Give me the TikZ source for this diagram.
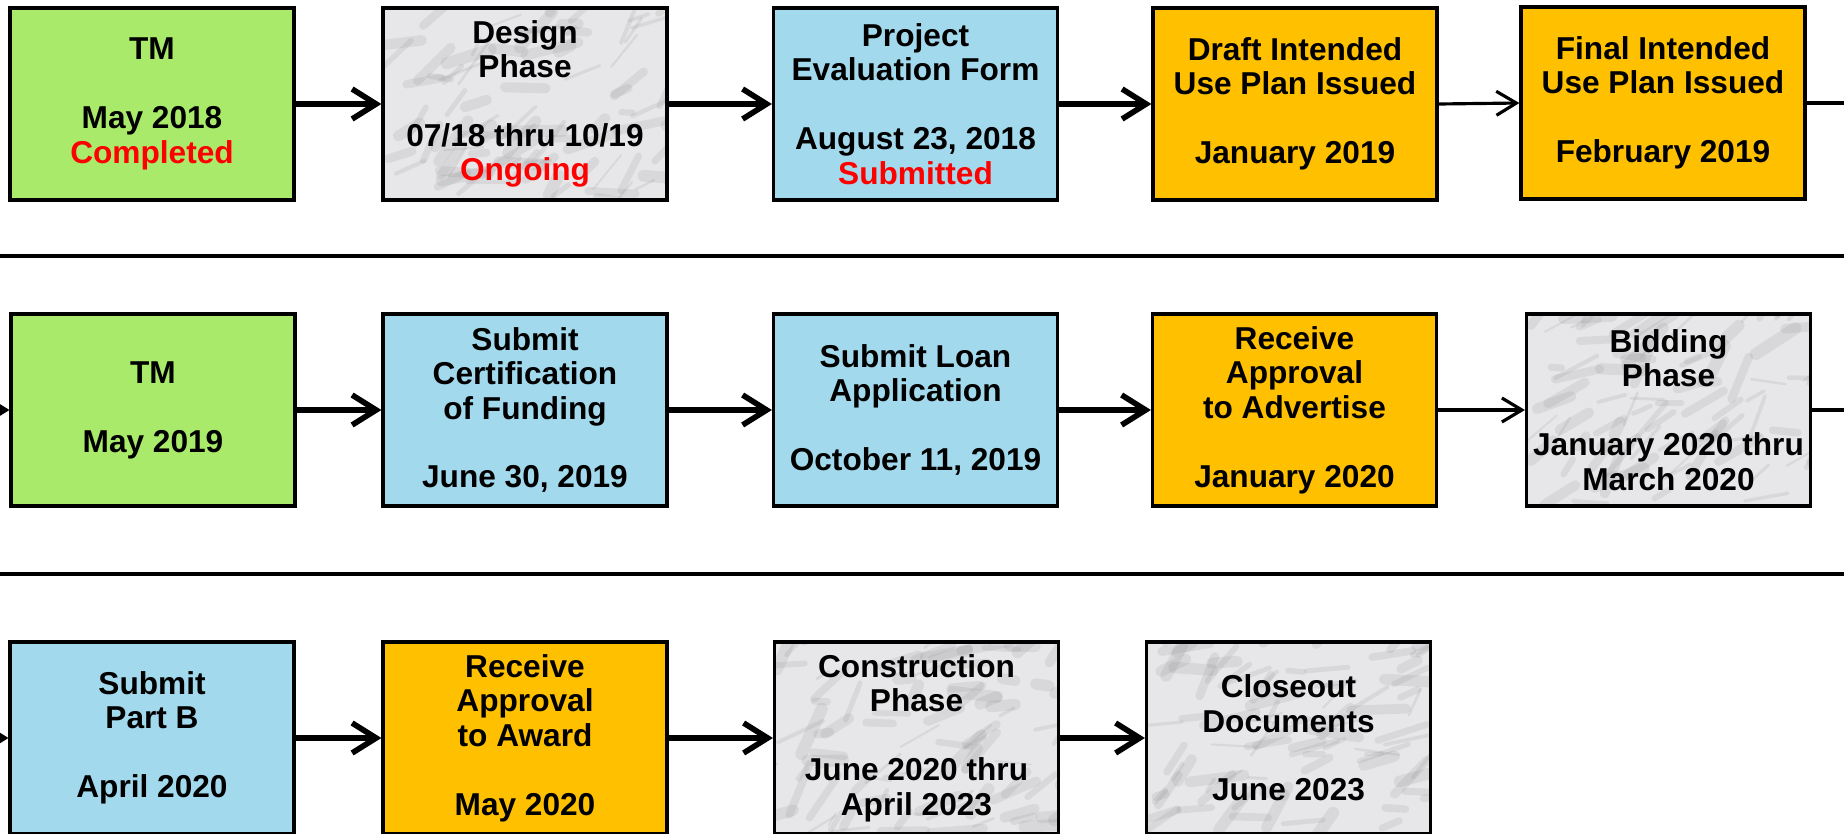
\documentclass[tikz,border=0pt]{standalone}
\usepackage{fontspec}
\setmainfont{Liberation Sans}
\usetikzlibrary{arrows.meta}
\definecolor{tmgreen}{RGB}{169,234,106}
\definecolor{subblue}{RGB}{163,217,236}
\definecolor{issgold}{RGB}{255,192,0}
\definecolor{marblebase}{RGB}{231,231,233}
\definecolor{marblevein}{RGB}{120,120,126}
\newcommand{\blankrow}{\\[9.8pt]}
\begin{document}
\begin{tikzpicture}[box/.style={draw=black,line width=0.9pt,minimum width=2.84cm,minimum height=1.92cm,inner sep=0pt,align=center,font=\fontsize{9}{9.8}\selectfont\bfseries},
tm/.style={box,fill=tmgreen},
submit/.style={box,fill=subblue},
issue/.style={box,fill=issgold},
phase/.style={box,fill=marblebase,path picture={
\foreach \v in {1,...,90}{
\pgfmathsetmacro\vw{0.5+3*rnd}
\pgfmathsetmacro\va{30+40*rand}
\pgfmathsetmacro\vl{0.1+0.45*rnd}
\draw[marblevein,line width=\vw pt,line cap=round,opacity=0.13]
([shift={(1.5*rand,1*rand)}]path picture bounding box.center) -- ++(\va:\vl);
}}},
link/.style={line width=1.6pt,-{Straight Barb[length=2.4mm,width=3mm]}},
thinlink/.style={line width=0.9pt,-{Straight Barb[length=2mm,width=2.4mm]}},
rule/.style={line width=0.9pt}]
\pgfmathsetseed{4217}
\useasboundingbox (0,0) rectangle (18.44,-8.34);
\clip (0,0) rectangle (18.44,-8.34);
\draw[rule] (0,-2.56) -- (18.44,-2.56);
\draw[rule] (0,-5.74) -- (18.44,-5.74);
\node[tm] (tma) at (1.52,-1.04) {TM\blankrow May 2018\\\textcolor{red}{Completed}};
\node[phase] (design) at (5.25,-1.04) {Design\\Phase\blankrow 07/18 thru 10/19\\\textcolor{red}{Ongoing}};
\node[submit] (evalform) at (9.155,-1.04) {Project\\Evaluation Form\blankrow August 23, 2018\\\textcolor{red}{Submitted}};
\node[issue] (draftiup) at (12.95,-1.04) {Draft Intended\\Use Plan Issued\blankrow January 2019};
\node[issue] (finaliup) at (16.63,-1.03) {Final Intended\\Use Plan Issued\blankrow February 2019};
\node[tm] (tmb) at (1.53,-4.10) {TM\blankrow May 2019};
\node[submit] (certify) at (5.25,-4.10) {Submit\\Certification\\of Funding\blankrow June 30, 2019};
\node[submit] (loanapp) at (9.155,-4.10) {Submit Loan\\Application\blankrow October 11, 2019};
\node[issue] (advertise) at (12.945,-4.10) {Receive\\Approval\\to Advertise\blankrow January 2020};
\node[phase] (bidding) at (16.685,-4.10) {Bidding\\Phase\blankrow January 2020 thru\\March 2020};
\node[submit] (partb) at (1.52,-7.38) {Submit\\Part B\blankrow April 2020};
\node[issue] (award) at (5.25,-7.38) {Receive\\Approval\\to Award\blankrow May 2020};
\node[phase] (construct) at (9.165,-7.38) {Construction\\Phase\blankrow June 2020 thru\\April 2023};
\node[phase] (closeout) at (12.885,-7.38) {Closeout\\Documents\blankrow June 2023};
\coordinate (outa) at (18.7,-1.03);
\coordinate (outb) at (18.7,-4.10);
\coordinate (inb) at (-0.4,-4.10);
\coordinate (inc) at (-0.4,-7.38);
\draw[link] (tma) -- (design);
\draw[link] (design) -- (evalform);
\draw[link] (evalform) -- (draftiup);
\draw[thinlink] (draftiup.east) -- (finaliup.west);
\draw[line width=0.9pt] (finaliup.east) -- (outa);
\draw[link] (inb) -- (tmb.west);
\draw[link] (tmb) -- (certify);
\draw[link] (certify) -- (loanapp);
\draw[link] (loanapp) -- (advertise);
\draw[thinlink] (advertise.east) -- (bidding.west);
\draw[line width=0.9pt] (bidding.east) -- (outb);
\draw[link] (inc) -- (partb.west);
\draw[link] (partb) -- (award);
\draw[link] (award) -- (construct);
\draw[link] (construct) -- (closeout);
\end{tikzpicture}
\end{document}
